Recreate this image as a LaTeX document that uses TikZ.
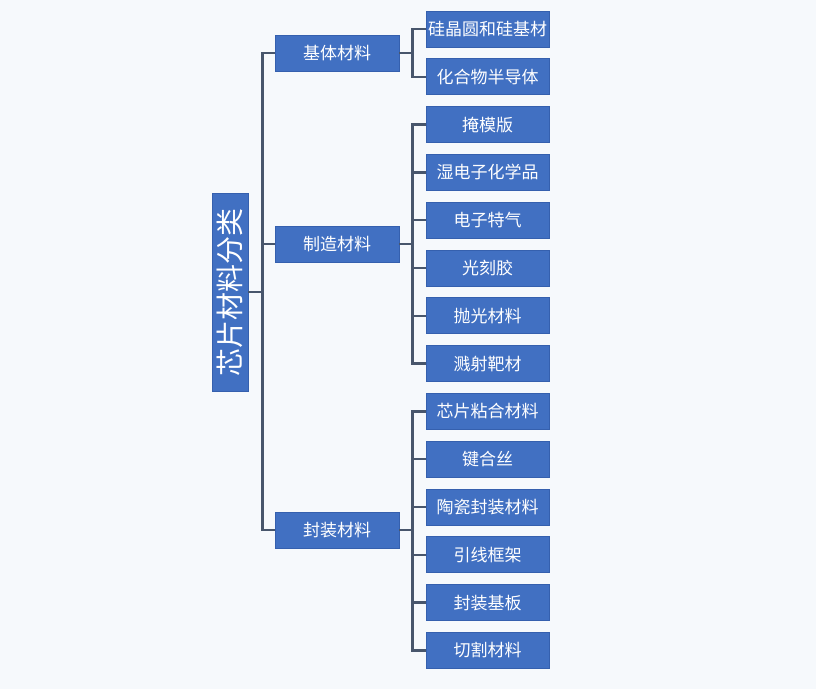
\documentclass[tikz,border=0pt]{standalone}
\usepackage{fontspec}
\setmainfont{Noto Sans CJK SC}
\usepackage{xcolor}
\usepackage{tikz}
\usetikzlibrary{positioning,calc}
\definecolor{boxblue}{HTML}{4170C2}
\definecolor{boxedge}{HTML}{3560AE}
\definecolor{linegray}{HTML}{48566C}
\definecolor{paper}{HTML}{F6F9FC}

\begin{document}
\begin{tikzpicture}[x=1pt,y=-1pt,node distance=11pt,
  box/.style={draw=boxedge,fill=boxblue,text=white,inner sep=0pt,line width=0.8pt},
  leaf/.style={box,minimum width=123pt,minimum height=36pt,font=\fontsize{17}{19}\selectfont},
  mid/.style={box,minimum width=124pt,minimum height=36pt,font=\fontsize{17}{19}\selectfont},
  link/.style={draw=linegray,line width=2.4pt}]
\fill[paper] (0,0) rectangle (816,689);
\useasboundingbox (0,0) rectangle (816,689);

\node[box,rotate=90,minimum width=198pt,minimum height=36pt,font=\fontsize{28}{30}\selectfont] (root) at (230,292) {芯片材料分类};

\node[mid] (base) at (337,53) {基体材料};
\node[mid] (make) at (337,244) {制造材料};
\node[mid] (pack) at (337,530) {封装材料};

\node[leaf] (wafer) at (487.5,29) {硅晶圆和硅基材};
\node[leaf,below=of wafer] (compound) {化合物半导体};
\node[leaf,below=of compound] (mask) {掩模版};
\node[leaf,below=of mask] (wetchem) {湿电子化学品};
\node[leaf,below=of wetchem] (gas) {电子特气};
\node[leaf,below=of gas] (resist) {光刻胶};
\node[leaf,below=of resist] (polish) {抛光材料};
\node[leaf,below=of polish] (target) {溅射靶材};
\node[leaf,below=of target] (bonding) {芯片粘合材料};
\node[leaf,below=of bonding] (wire) {键合丝};
\node[leaf,below=of wire] (ceramic) {陶瓷封装材料};
\node[leaf,below=of ceramic] (frame) {引线框架};
\node[leaf,below=of frame] (substrate) {封装基板};
\node[leaf,below=of substrate] (dicing) {切割材料};

% root to the three groups
\foreach \m in {base,make,pack}
  \draw[link] (root.south) -- ++(14,0) |- (\m.west);

% groups to their materials
\foreach \l in {wafer,compound}
  \draw[link] (base.east) -- ++(13,0) |- (\l.west);
\foreach \l in {mask,wetchem,gas,resist,polish,target}
  \draw[link] (make.east) -- ++(13,0) |- (\l.west);
\foreach \l in {bonding,wire,ceramic,frame,substrate,dicing}
  \draw[link] (pack.east) -- ++(13,0) |- (\l.west);
\end{tikzpicture}
\end{document}
